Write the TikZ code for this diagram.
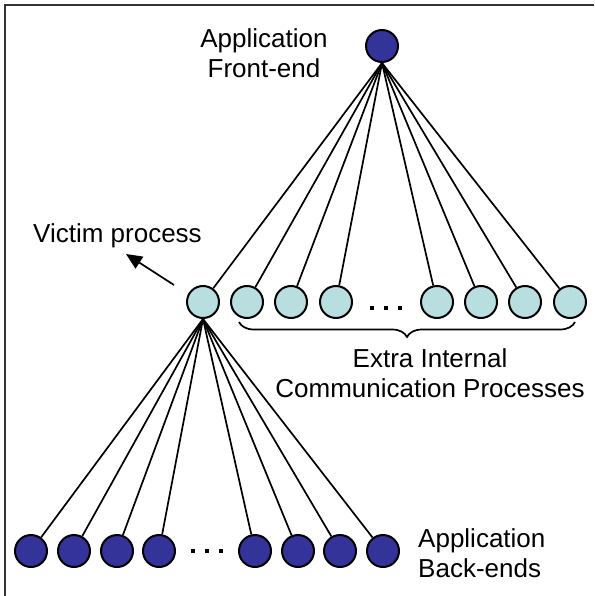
\documentclass[tikz,border=0pt]{standalone}
\usepackage{fontspec}
\setmainfont{Liberation Sans}
\usetikzlibrary{arrows.meta,decorations.pathreplacing}
\definecolor{darkproc}{RGB}{51,51,153}
\definecolor{lightproc}{RGB}{184,222,224}
\tikzset{
  proc/.style={circle,draw=black,line width=2pt,minimum size=32pt,inner sep=0pt},
  fe/.style={proc,fill=darkproc},
  be/.style={proc,fill=darkproc},
  mid/.style={proc,fill=lightproc},
  link/.style={line width=1.7pt},
  lbl/.style={font=\fontsize{26}{30}\selectfont,inner sep=0pt},
  dotmark/.style={fill=black}
}
\begin{document}
\begin{tikzpicture}[x=1pt,y=-1pt]
\useasboundingbox (0,0) rectangle (594,596);
\draw[line width=2pt,black!80] (5,596) -- (5,5) -- (594,5);
% front end
\node[fe] (f) at (382,46) {};
\node[lbl,align=center] (ftxt) at (264,53) {Application\\Front-end};
% middle row
\node[mid] (v) at (203,302) {};
\foreach \i/\x in {1/247,2/291,3/336,4/437,5/481,6/525,7/570}
  \node[mid] (m\i) at (\x,302) {};
\draw[link] (f.south) -- (v);
\foreach \i in {1,...,7}
  \draw[link] (f.south) -- (m\i);
\foreach \x in {372,386,400}
  \fill[dotmark] (\x-2,308-2) rectangle (\x+2,308+2);
% bottom row
\foreach \i/\x in {1/31,2/74,3/117,4/159,5/255,6/298,7/340,8/383}
  \node[be] (b\i) at (\x,551) {};
\foreach \i in {1,...,8}
  \draw[link] (v.south) -- (b\i);
\foreach \x in {193,207,221}
  \fill[dotmark] (\x-2,551-2) rectangle (\x+2,551+2);
% victim label and arrow
\node[lbl,anchor=base west] (vtxt) at (33,242) {Victim process};
\coordinate (atail) at (174,285);
\coordinate (ahead) at (126,254);
\draw[link,-{Triangle[length=16pt,width=14pt]}] (atail) -- (ahead);
% brace
\coordinate (br1) at (575,322);
\coordinate (br2) at (239,322);
\draw[line width=1.7pt,decorate,decoration={brace,amplitude=15pt}] (br1) -- (br2);
\node[lbl,align=center] (etxt) at (430,373) {Extra Internal\\Communication Processes};
% back-end label
\node[lbl,align=left,anchor=west] (btxt) at (418,553) {Application\\Back-ends};
\end{tikzpicture}
\end{document}
